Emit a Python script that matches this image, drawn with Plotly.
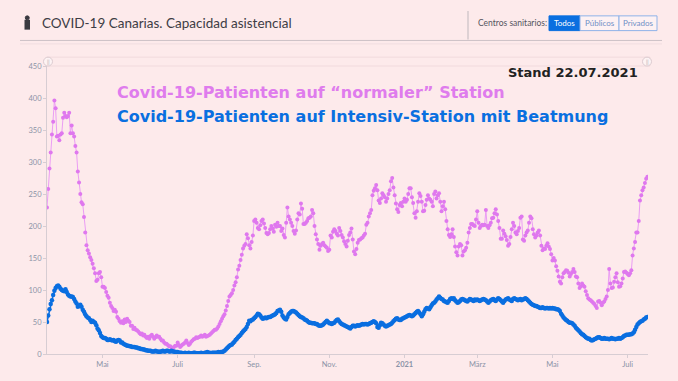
import pandas as pd
import plotly.graph_objects as go

# ---------------- data (daily values) ----------------
month_starts = ["2020-03-17", "2020-04-01", "2020-05-01", "2020-06-01", "2020-07-01",
                "2020-08-01", "2020-09-01", "2020-10-01", "2020-11-01", "2020-12-01",
                "2021-01-01", "2021-02-01", "2021-03-01", "2021-04-01", "2021-05-01",
                "2021-06-01", "2021-07-01"]

# Covid-19 patients on normal wards
normal_2020_03 = [229, 258, 290, 315, 343, 363, 396, 384, 340, 341, 334, 343, 345, 369, 377]
normal_2020_04 = [372, 370, 372, 377, 345, 357, 345, 340, 325, 315, 285, 268, 250, 237, 234,
                  214, 190, 170, 162, 157, 151, 147, 141, 134, 126, 114, 116, 126, 128, 120]
normal_2020_05 = [105, 105, 103, 97, 91, 88, 80, 75, 72, 67, 69, 66, 58, 55, 51, 49, 51, 48,
                  54, 50, 55, 52, 50, 44, 44, 39, 41, 38, 37, 35, 33]
normal_2020_06 = [31, 32, 29, 30, 27, 25, 27, 24, 28, 30, 27, 24, 26, 29, 27, 27, 24, 21, 21,
                  18, 16, 16, 14, 12, 12, 10, 9, 11, 13, 13]
normal_2020_07 = [18, 14, 11, 13, 15, 16, 18, 21, 17, 14, 16, 19, 21, 23, 24, 26, 25, 26, 27,
                  29, 27, 28, 30, 27, 28, 29, 30, 32, 34, 36, 38]
normal_2020_08 = [38, 40, 43, 47, 51, 55, 59, 62, 68, 75, 83, 90, 92, 95, 100, 107, 112, 120,
                  132, 138, 147, 155, 165, 169, 172, 187, 181, 170, 165, 175, 185]
normal_2020_09 = [208, 210, 205, 197, 195, 201, 208, 210, 204, 197, 189, 187, 189, 195, 200,
                  196, 191, 202, 199, 205, 200, 200, 192, 196, 186, 182, 205, 229, 215, 210]
normal_2020_10 = [205, 200, 192, 188, 193, 210, 220, 218, 235, 227, 203, 203, 205, 208, 212,
                  213, 215, 225, 220, 200, 187, 179, 172, 163, 169, 172, 174, 170, 168, 166, 161]
normal_2020_11 = [163, 185, 182, 191, 195, 192, 188, 185, 197, 192, 186, 182, 176, 172, 168,
                  177, 186, 190, 196, 179, 160, 156, 164, 174, 178, 179, 181, 182, 185, 188]
normal_2020_12 = [202, 205, 215, 220, 225, 248, 255, 259, 264, 256, 240, 236, 243, 251, 248,
                  245, 238, 243, 250, 256, 270, 275, 260, 248, 235, 226, 222, 233, 236, 231, 238]
normal_2021_01 = [243, 238, 241, 250, 259, 259, 245, 236, 220, 213, 223, 238, 251, 247, 238,
                  223, 224, 233, 241, 248, 243, 241, 238, 231, 250, 254, 243, 248, 251, 238, 223]
normal_2021_02 = [231, 238, 226, 208, 195, 186, 183, 187, 195, 183, 168, 159, 154, 168, 172,
                  170, 154, 160, 162, 166, 174, 190, 197, 203, 203, 201, 200, 210]
normal_2021_03 = [223, 205, 197, 200, 202, 201, 202, 225, 200, 197, 201, 205, 212, 213, 220,
                  226, 218, 208, 197, 180, 180, 193, 188, 184, 178, 169, 172, 183, 195, 205, 200]
normal_2021_04 = [190, 187, 192, 197, 213, 215, 179, 177, 185, 190, 193, 205, 215, 212, 195,
                  187, 182, 185, 190, 193, 185, 169, 162, 165, 164, 169, 173, 168, 164, 156]
normal_2021_05 = [146, 150, 146, 137, 130, 121, 113, 110, 120, 126, 128, 131, 130, 127, 121,
                  125, 128, 133, 128, 121, 120, 110, 103, 106, 110, 107, 105, 98, 92, 87, 85]
normal_2021_06 = [84, 82, 80, 78, 75, 72, 82, 83, 80, 76, 80, 82, 86, 90, 100, 133, 110, 103,
                  104, 113, 120, 126, 112, 105, 106, 110, 118, 128, 129, 127]
normal_2021_07 = [125, 123, 126, 131, 154, 165, 175, 190, 190, 208, 240, 248, 256, 260, 267,
                  274, 277]

# Covid-19 patients in intensive care with ventilation
icu_2020_03 = [50, 60, 70, 78, 84, 92, 99, 103, 106, 107, 105, 102, 100, 99, 98]
icu_2020_04 = [101, 97, 93, 91, 90, 90, 89, 86, 82, 79, 74, 75, 77, 74, 69, 66, 62, 59, 57,
               56, 53, 50, 52, 50, 49, 45, 40, 37, 33, 28]
icu_2020_05 = [26, 25, 25, 24, 22, 22, 23, 22, 21, 22, 20, 19, 21, 22, 21, 18, 18, 16, 15,
               14, 13, 13, 12, 12, 11, 11, 11, 10, 10, 9, 9]
icu_2020_06 = [8, 8, 7, 7, 6, 6, 5, 5, 5, 4, 4, 4, 5, 4, 4, 3, 4, 4, 5, 4, 4, 5, 5, 4, 4, 5,
               4, 4, 3, 3]
icu_2020_07 = [3, 2, 2, 2, 1, 1, 2, 1, 1, 2, 1, 1, 1, 2, 2, 1, 1, 1, 1, 2, 1, 1, 2, 2, 3, 2,
               2, 1, 2, 2, 2]
icu_2020_08 = [2, 2, 3, 2, 3, 3, 4, 5, 7, 9, 11, 13, 14, 15, 17, 19, 22, 24, 26, 28, 30, 33,
               35, 37, 39, 42, 47, 52, 51, 53, 54]
icu_2020_09 = [56, 58, 60, 63, 62, 60, 57, 55, 56, 57, 56, 57, 58, 58, 59, 60, 61, 62, 64, 67,
               68, 69, 66, 60, 57, 55, 54, 58, 62, 64]
icu_2020_10 = [66, 67, 67, 66, 65, 63, 61, 59, 58, 57, 56, 54, 53, 52, 50, 49, 49, 48, 48, 48,
               47, 47, 45, 44, 44, 45, 46, 48, 50, 52, 50]
icu_2020_11 = [48, 48, 47, 48, 49, 51, 53, 54, 51, 49, 47, 46, 45, 44, 43, 42, 41, 40, 42, 44,
               44, 43, 44, 45, 44, 45, 46, 47, 46, 47]
icu_2020_12 = [47, 46, 47, 48, 49, 50, 51, 50, 48, 42, 41, 45, 49, 48, 46, 44, 43, 44, 45, 46,
               47, 49, 51, 53, 55, 56, 54, 53, 53, 55, 56]
icu_2021_01 = [57, 58, 59, 60, 61, 60, 59, 60, 62, 64, 66, 67, 65, 62, 59, 62, 66, 70, 72, 71,
               70, 73, 76, 79, 80, 82, 85, 87, 90, 88, 86]
icu_2021_02 = [85, 83, 82, 81, 80, 83, 86, 87, 86, 87, 84, 82, 80, 81, 83, 85, 86, 85, 84, 83,
               82, 84, 86, 85, 84, 83, 85, 84]
icu_2021_03 = [85, 84, 83, 84, 85, 86, 85, 84, 82, 80, 82, 84, 85, 86, 84, 83, 85, 87, 86, 84,
               82, 80, 83, 85, 86, 87, 85, 84, 83, 86, 87]
icu_2021_04 = [86, 85, 84, 85, 86, 84, 85, 86, 87, 86, 84, 82, 80, 78, 77, 76, 75, 75, 74, 73,
               72, 72, 73, 72, 71, 72, 72, 71, 72, 71]
icu_2021_05 = [72, 71, 71, 70, 70, 69, 67, 63, 60, 57, 55, 53, 52, 50, 49, 49, 48, 46, 44, 41,
               39, 37, 35, 33, 31, 30, 28, 26, 25, 24, 24]
icu_2021_06 = [22, 21, 22, 23, 24, 25, 26, 26, 25, 24, 24, 25, 24, 24, 24, 23, 24, 25, 24, 24,
               23, 24, 24, 25, 24, 25, 26, 28, 29, 30]
icu_2021_07 = [30, 30, 31, 31, 32, 34, 38, 42, 46, 48, 50, 51, 52, 54, 55, 57, 58]

normal_months = [normal_2020_03, normal_2020_04, normal_2020_05, normal_2020_06, normal_2020_07,
                 normal_2020_08, normal_2020_09, normal_2020_10, normal_2020_11, normal_2020_12,
                 normal_2021_01, normal_2021_02, normal_2021_03, normal_2021_04, normal_2021_05,
                 normal_2021_06, normal_2021_07]
icu_months = [icu_2020_03, icu_2020_04, icu_2020_05, icu_2020_06, icu_2020_07,
              icu_2020_08, icu_2020_09, icu_2020_10, icu_2020_11, icu_2020_12,
              icu_2021_01, icu_2021_02, icu_2021_03, icu_2021_04, icu_2021_05,
              icu_2021_06, icu_2021_07]

tick_dates = ["2020-05-01", "2020-07-01", "2020-09-01", "2020-11-01", "2021-01-01",
              "2021-03-01", "2021-05-01", "2021-07-01"]
tick_labels = ["Mai", "Juli", "Sep.", "Nov.", "<b>2021</b>", "März", "Mai", "Juli"]
y_ticks = [0, 50, 100, 150, 200, 250, 300, 350, 400, 450]

title_text = "COVID-19 Canarias. Capacidad asistencial"
label_normal = "Covid-19-Patienten auf \u201cnormaler\u201d Station"
label_icu = "Covid-19-Patienten auf Intensiv-Station mit Beatmung"
stand_text = "Stand 22.07.2021"


def build(series_months):
    xs, ys = [], []
    for start, vals in zip(month_starts, series_months):
        xs.extend(pd.date_range(start, periods=len(vals), freq="D"))
        ys.extend(vals)
    return xs, ys


nx, ny = build(normal_months)
ix, iy = build(icu_months)

# ---------------- figure ----------------
W, H = 678, 381
ML, MR, MT, MB = 47, 30, 66, 22
PW, PH = W - ML - MR, H - MT - MB


def px(x, y):
    return (x - ML) / PW, (H - MB - y) / PH


BG = "#fdeaeb"
fig = go.Figure()
fig.add_trace(go.Scatter(x=nx, y=ny, mode="lines+markers",
                         line=dict(color="#eb9df4", width=1),
                         marker=dict(color="#df78ee", size=4),
                         showlegend=False, hoverinfo="x+y"))
fig.add_trace(go.Scatter(x=ix, y=iy, mode="lines+markers",
                         line=dict(color="#1170e0", width=1.5),
                         marker=dict(color="#0a6ee0", size=4.5),
                         showlegend=False, hoverinfo="x+y"))

shapes = []
annotations = []


def rect(x0, y0, x1, y1, **kw):
    a0 = px(x0, y0)
    a1 = px(x1, y1)
    d = dict(type="rect", xref="paper", yref="paper", x0=a0[0], y0=a0[1], x1=a1[0], y1=a1[1], layer="above")
    d.update(kw)
    shapes.append(d)


def line(x0, y0, x1, y1, color, width=1):
    a0 = px(x0, y0)
    a1 = px(x1, y1)
    shapes.append(dict(type="line", xref="paper", yref="paper", x0=a0[0], y0=a0[1], x1=a1[0], y1=a1[1],
                       line=dict(color=color, width=width), layer="above"))


def circle(cx, cy, r, fill, lc):
    a0 = px(cx - r, cy + r)
    a1 = px(cx + r, cy - r)
    shapes.append(dict(type="circle", xref="paper", yref="paper", x0=a0[0], y0=a0[1], x1=a1[0], y1=a1[1],
                       fillcolor=fill, line=dict(color=lc, width=1), layer="above"))


def text(x, y, s, size, color, family="Lato", xanchor="left", weight=None):
    p = px(x, y)
    f = dict(size=size, color=color, family=family)
    if weight:
        f["weight"] = weight
    annotations.append(dict(xref="paper", yref="paper", x=p[0], y=p[1], text=s, showarrow=False,
                            xanchor=xanchor, yanchor="middle", font=f))


# header
line(20, 40, 662, 40, "#cdc1c6", 1)
line(20, 43.5, 662, 43.5, "#f0dde0", 1)
line(468, 10, 468, 39, "#d3c8cc", 1.5)
# coat of arms icon
rect(24.5, 19, 30, 29, fillcolor="#3a3a40", line=dict(width=0))
circle(27.25, 17, 2, "#3a3a40", "#3a3a40")
text(40, 22, title_text, 13.5, "#3d3d45")
text(476, 22.5, "Centros sanitarios:", 8.5, "#555560")
rect(549, 15, 580, 30, fillcolor="#0a6fe0", line=dict(color="#0a6fe0", width=1))
rect(580, 15, 619, 30, fillcolor="#fdf1f3", line=dict(color="#8fb2e8", width=1))
rect(619, 15, 657, 30, fillcolor="#fdf1f3", line=dict(color="#8fb2e8", width=1))
text(564.5, 22.5, "Todos", 8, "#ffffff", xanchor="center")
text(599.5, 22.5, "Públicos", 8, "#6f8fc6", xanchor="center")
text(638, 22.5, "Privados", 8, "#6f8fc6", xanchor="center")

# scrollbar-like navigator track
rect(47, 57, 650, 66, fillcolor="rgba(0,0,0,0)", line=dict(color="#f1dadd", width=1))
circle(48, 61.5, 4.5, "#fdf3f4", "#dccbd0")
circle(647, 61.5, 4.5, "#fdf3f4", "#dccbd0")
text(48, 61.5, "||", 5, "#a9a0a6", xanchor="center")
text(647, 61.5, "||", 5, "#a9a0a6", xanchor="center")

# labels
text(573, 72.5, stand_text, 13, "#222222", family="DejaVu Sans", xanchor="center", weight="bold")
text(115, 93, label_normal, 16, "#df7ced", family="DejaVu Sans", weight="bold")
text(115, 117, label_icu, 16, "#0a6fe0", family="DejaVu Sans", weight="bold")

fig.update_layout(
    width=W, height=H,
    margin=dict(l=ML, r=MR, t=MT, b=MB, pad=0),
    paper_bgcolor=BG, plot_bgcolor=BG,
    font=dict(family="Lato", color="#8b93a7"),
    shapes=shapes, annotations=annotations,
    showlegend=False,
)
fig.update_xaxes(
    type="date",
    range=["2020-03-17", "2021-07-17 12:00"],
    tickmode="array", tickvals=tick_dates, ticktext=tick_labels,
    tickfont=dict(size=7.5, color="#8b93a7"),
    showgrid=False, zeroline=False,
    showline=True, linecolor="#d7cdd3", linewidth=1,
    ticks="outside", ticklen=3, tickcolor="#d7cdd3",
)
fig.update_yaxes(
    range=[0, 450], tickvals=y_ticks,
    tickfont=dict(size=7.5, color="#8b93a7"),
    showgrid=False, zeroline=False,
    showline=True, linecolor="#d7cdd3", linewidth=1,
    ticks="outside", ticklen=3, tickcolor="#d7cdd3",
)

fig.write_html("out.html", config={"displayModeBar": False},
               post_script="document.body.style.margin='0';")
